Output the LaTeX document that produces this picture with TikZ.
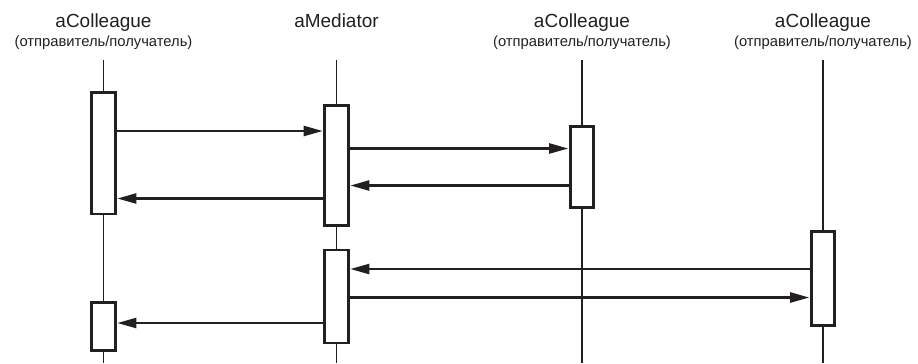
\documentclass[tikz,border=0pt]{standalone}
\usepackage{fontspec}
\setmainfont{Liberation Sans}
\usepackage{tikz}
\usetikzlibrary{arrows.meta,positioning}
\definecolor{inkblack}{HTML}{231F20}
\tikzset{
  obj name/.style   = {anchor=base, inner sep=0pt, text=inkblack,
                       font=\fontsize{10.8}{12}\selectfont},
  obj role/.style   = {anchor=base, inner sep=0pt, text=inkblack,
                       font=\fontsize{8.4}{10}\selectfont},
  lifeline/.style   = {inkblack, line width=1.1pt},
  activation/.style = {draw=inkblack, fill=white, line width=1.5pt,
                       minimum width=4.7mm, inner sep=0pt},
  msg/.style        = {-{Triangle[length=3.8mm,width=2mm]}, inkblack,
                       line width=1.3pt, shorten >=0.4pt},
}

\begin{document}
\begin{tikzpicture}
      \useasboundingbox (0,0) rectangle (18.36,-7.26);
      % headers
      \node[obj name] (n1) at (2.07,-0.54) {aColleague};
      \node[obj role] (r1) at (2.07,-0.92) {(отправитель/получатель)};
      \node[obj name] (n2) at (6.73,-0.54) {aMediator};
      \node[obj name] (n3) at (11.64,-0.54) {aColleague};
      \node[obj role] (r3) at (11.64,-0.92) {(отправитель/получатель)};
      \node[obj name] (n4) at (16.46,-0.54) {aColleague};
      \node[obj role] (r4) at (16.46,-0.92) {(отправитель/получатель)};
      % lifelines
      \foreach \name/\x in {c1/2.07, med/6.73, c3/11.64, c4/16.46} {
        \coordinate (\name top) at (\x,-1.2);
        \coordinate (\name bot) at (\x,-7.26);
        \draw[lifeline] (\name top) -- (\name bot);
      }
      % activations
      \node[activation, minimum height=2.43cm] (c1a) at (2.07,-3.067) {};
      \node[activation, minimum height=0.96cm] (c1b) at (2.07,-6.53) {};
      \node[activation, minimum height=2.41cm] (meda) at (6.73,-3.31) {};
      \node[activation, minimum height=1.86cm] (medb) at (6.73,-5.93) {};
      \node[activation, minimum height=1.61cm] (c3a) at (11.64,-3.34) {};
      \node[activation, minimum height=1.87cm] (c4a) at (16.46,-5.57) {};
      % messages
      \draw[msg] (c1a.east |- 0,-2.62) -- (meda.west |- 0,-2.62);
      \draw[msg] (meda.east |- 0,-2.97) -- (c3a.west |- 0,-2.97);
      \draw[msg] (c3a.west |- 0,-3.71) -- (meda.east |- 0,-3.71);
      \draw[msg] (meda.west |- 0,-3.97) -- (c1a.east |- 0,-3.97);
      \draw[msg] (c4a.west |- 0,-5.38) -- (medb.east |- 0,-5.38);
      \draw[msg] (medb.east |- 0,-5.95) -- (c4a.west |- 0,-5.95);
      \draw[msg] (medb.west |- 0,-6.46) -- (c1b.east |- 0,-6.46);
    \end{tikzpicture}
\end{document}
